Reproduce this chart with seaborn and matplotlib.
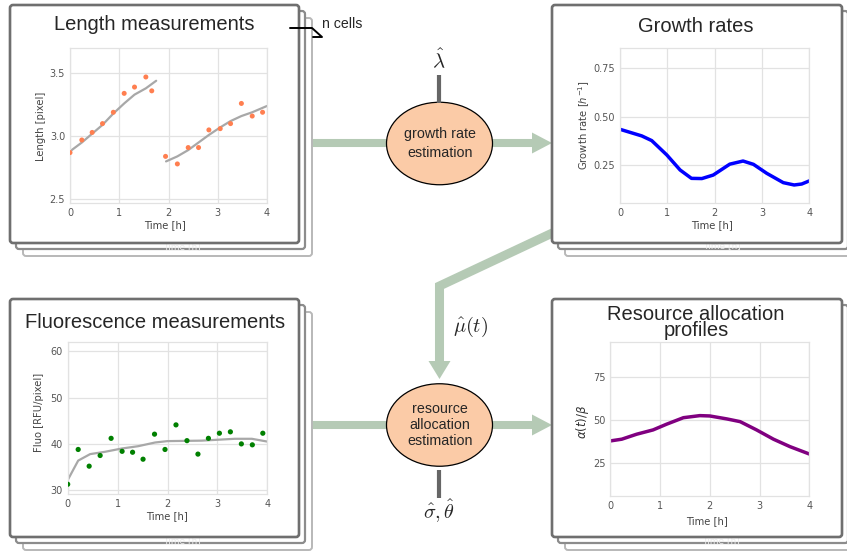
import matplotlib
matplotlib.use("Agg")
import matplotlib.pyplot as plt
import seaborn as sns
from matplotlib.patches import FancyBboxPatch, Ellipse, Polygon

# ---------------- data ----------------
length_time = [0.0, 0.24, 0.45, 0.66, 0.88, 1.10, 1.31, 1.54, 1.66, 1.94,
               2.18, 2.40, 2.61, 2.82, 3.05, 3.26, 3.48, 3.70, 3.91]
length_px = [2.87, 2.97, 3.03, 3.10, 3.19, 3.34, 3.39, 3.47, 3.36, 2.84,
             2.78, 2.91, 2.91, 3.05, 3.06, 3.10, 3.26, 3.16, 3.19]

fit1_time = [0.0, 0.24, 0.45, 0.66, 0.88, 1.10, 1.31, 1.54, 1.75]
fit1_len = [2.88, 2.95, 3.02, 3.09, 3.18, 3.26, 3.33, 3.38, 3.44]
fit2_time = [1.95, 2.18, 2.40, 2.61, 2.82, 3.05, 3.26, 3.48, 3.70, 4.0]
fit2_len = [2.80, 2.84, 2.89, 2.95, 3.01, 3.07, 3.12, 3.16, 3.19, 3.24]

growth_time = [0.0, 0.46, 0.67, 0.99, 1.27, 1.51, 1.73, 1.97, 2.32, 2.60,
               2.82, 3.10, 3.45, 3.68, 3.84, 4.0]
growth_rate = [0.435, 0.401, 0.377, 0.303, 0.226, 0.183, 0.182, 0.200, 0.256,
               0.272, 0.255, 0.209, 0.161, 0.149, 0.154, 0.170]

fluo_time = [0.0, 0.21, 0.43, 0.65, 0.87, 1.09, 1.30, 1.51, 1.74, 1.95,
             2.17, 2.39, 2.61, 2.82, 3.04, 3.26, 3.48, 3.70, 3.91]
fluo_value = [31.3, 38.8, 35.2, 37.5, 41.2, 38.4, 38.2, 36.7, 42.1, 38.8,
              44.1, 40.7, 37.8, 41.2, 42.3, 42.6, 40.0, 39.8, 42.3]
fluo_fit_time = [0.0, 0.21, 0.45, 0.75, 1.08, 1.41, 1.75, 2.0, 2.68, 3.35, 3.69, 4.0]
fluo_fit_value = [32.2, 36.4, 37.8, 38.3, 39.0, 39.5, 40.3, 40.6, 40.7, 41.1, 41.1, 40.5]

alloc_time = [0.0, 0.23, 0.53, 0.86, 1.13, 1.47, 1.80, 2.0, 2.34, 2.61,
              2.94, 3.28, 3.61, 4.0]
alloc_value = [38.0, 39.0, 41.9, 44.4, 47.7, 51.5, 52.7, 52.5, 50.8, 49.2,
               44.4, 39.0, 34.7, 30.4]

time_ticks = [0, 1, 2, 3, 4]

# ---------------- style ----------------
sns.set_theme(style="whitegrid", rc={
    "grid.color": "#e2e2e2",
    "axes.edgecolor": "#e2e2e2",
    "xtick.color": "#555555",
    "ytick.color": "#555555",
    "axes.labelcolor": "#444444",
})
plt.rcParams["font.family"] = ["DejaVu Sans"]

W, H = 847, 551
fig = plt.figure(figsize=(W / 100, H / 100), dpi=100)

bg = fig.add_axes([0, 0, 1, 1])
bg.set_xlim(0, W)
bg.set_ylim(H, 0)
bg.axis("off")

TITLE_FONT = ["Liberation Sans", "DejaVu Sans"]
GREEN = "#b5cab5"
PEACH = "#fbcba7"


def px_axes(x0, y0, x1, y1):
    return fig.add_axes([x0 / W, 1 - y1 / H, (x1 - x0) / W, (y1 - y0) / H])


def card_stack(x0, y0, x1, y1):
    layers = [(13, "#b8b8b8", 1.4), (6, "#8c8c8c", 1.6), (0, "#6f6f6f", 1.9)]
    for off, col, lw in layers:
        z = 3 if off else 5
        bg.add_patch(FancyBboxPatch((x0 + off, y0 + off), x1 - x0, y1 - y0,
                                    boxstyle="round,pad=0,rounding_size=3",
                                    facecolor="white", edgecolor=col,
                                    linewidth=lw, zorder=z))


# ---------------- arrows (behind the cards) ----------------
arrow_lw = 5.8
bg.plot([300, 390], [143, 143], color=GREEN, lw=arrow_lw, solid_capstyle="butt", zorder=1)
bg.plot([488, 534], [143, 143], color=GREEN, lw=arrow_lw, solid_capstyle="butt", zorder=1)
bg.add_patch(Polygon([(532, 132.5), (552, 143), (532, 153.5)], closed=True,
                     facecolor=GREEN, edgecolor="none", zorder=1))

bg.plot([300, 390], [425, 425], color=GREEN, lw=arrow_lw, solid_capstyle="butt", zorder=1)
bg.plot([488, 534], [425, 425], color=GREEN, lw=arrow_lw, solid_capstyle="butt", zorder=1)
bg.add_patch(Polygon([(532, 414.5), (552, 425), (532, 435.5)], closed=True,
                     facecolor=GREEN, edgecolor="none", zorder=1))

bg.plot([580, 439.5, 439.5], [220, 286, 362], color=GREEN, lw=6.5,
        solid_joinstyle="miter", solid_capstyle="butt", zorder=1)
bg.add_patch(Polygon([(428.5, 361), (439.5, 379), (450.5, 361)], closed=True,
                     facecolor=GREEN, edgecolor="none", zorder=1))

# ---------------- cards ----------------
card_stack(10, 5, 299, 243)
card_stack(552, 5, 842, 243)
card_stack(10, 299, 299, 537)
card_stack(552, 299, 842, 537)

# faint labels of the cards stacked underneath
for gx, gy in [(182, 247), (722, 246), (182, 541), (721, 541)]:
    bg.text(gx, gy, "Time [h]", fontsize=6.5, color="#ececec",
            ha="center", va="center", zorder=4)

# card titles
bg.text(154, 25, "Length measurements", fontsize=14.5, family=TITLE_FONT,
        ha="center", va="center", zorder=6)
bg.text(696, 27, "Growth rates", fontsize=14.5, family=TITLE_FONT,
        ha="center", va="center", zorder=6)
bg.text(155, 323, "Fluorescence measurements", fontsize=14.5, family=TITLE_FONT,
        ha="center", va="center", zorder=6)
bg.text(696, 322.5, "Resource allocation\nprofiles", fontsize=14.5,
        family=TITLE_FONT, ha="center", va="center", linespacing=0.85,
        multialignment="center", zorder=6)

# "n cells" bracket
bg.plot([290, 312, 322, 313], [28, 28, 37, 37], color="black", lw=1.4, zorder=7)
bg.text(322, 24, "n cells", fontsize=10.2, family=TITLE_FONT,
        ha="left", va="center", zorder=7)

# ---------------- estimation nodes ----------------
for cy, label, ls in [(143.5, "growth rate\nestimation", 1.43),
                      (425, "resource\nallocation\nestimation", 1.2)]:
    bg.add_patch(Ellipse((439.5, cy), 106, 82.5, facecolor=PEACH,
                         edgecolor="black", linewidth=0.9, zorder=8))
    bg.text(440, cy, label, fontsize=10.3, family=TITLE_FONT, ha="center",
            va="center", linespacing=ls, zorder=9)

bg.plot([439, 439], [75, 103], color="#666666", lw=3, solid_capstyle="butt", zorder=8)
bg.plot([439, 439], [470, 498], color="#666666", lw=3, solid_capstyle="butt", zorder=8)
bg.text(439, 60, r"$\hat{\lambda}$", fontsize=15, math_fontfamily="cm",
        ha="center", va="center", zorder=9)
bg.text(471, 327, r"$\hat{\mu}(t)$", fontsize=14.5, math_fontfamily="cm",
        ha="center", va="center", zorder=9)
bg.text(439, 511, r"$\hat{\sigma},\hat{\theta}$", fontsize=14.5, math_fontfamily="cm",
        ha="center", va="center", zorder=9)


# ---------------- inner plots ----------------
def style_axes(ax, ylim, yticks, yfmt, xlabel_xy, ylabel_xy):
    ax.set_xlim(0, 4)
    ax.set_ylim(*ylim)
    ax.set_xticks(time_ticks)
    ax.set_yticks(yticks)
    ax.set_yticklabels([yfmt.format(v) for v in yticks])
    ax.tick_params(labelsize=7, pad=3.5, length=0)
    ax.grid(True, linewidth=0.9)
    for s in ax.spines.values():
        s.set_linewidth(0.9)
    ax.xaxis.set_label_coords(*xlabel_xy)
    ax.xaxis.label.set_verticalalignment("center")
    ax.yaxis.set_label_coords(*ylabel_xy)
    ax.yaxis.label.set_verticalalignment("center")


# length
ax1 = px_axes(70, 48, 267, 203)
sns.lineplot(x=fit1_time, y=fit1_len, ax=ax1, color="#a8a8a8", linewidth=1.6)
sns.lineplot(x=fit2_time, y=fit2_len, ax=ax1, color="#a8a8a8", linewidth=1.6)
sns.scatterplot(x=length_time, y=length_px, ax=ax1, color="coral", s=13,
                edgecolor="none", zorder=3)
ax1.set_xlabel("Time [h]", fontsize=7.2)
ax1.set_ylabel("Length [pixel]", fontsize=7.2)
style_axes(ax1, (2.47, 3.70), [2.5, 3.0, 3.5], "{:.1f}", (0.48, -0.142), (-0.147, 0.497))

# growth rate
ax2 = px_axes(620, 48.3, 809.3, 202.7)
sns.lineplot(x=growth_time, y=growth_rate, ax=ax2, color="blue", linewidth=2.5)
ax2.set_xlabel("Time [h]", fontsize=7.2)
ax2.set_ylabel(r"Growth rate [$h^{-1}$]", fontsize=7.2)
style_axes(ax2, (0.058, 0.851), [0.25, 0.50, 0.75], "{:.2f}", (0.486, -0.144), (-0.19, 0.5))

# fluorescence
ax3 = px_axes(67.7, 342.3, 267.3, 494)
sns.lineplot(x=fluo_fit_time, y=fluo_fit_value, ax=ax3, color="#a8a8a8", linewidth=1.6)
sns.scatterplot(x=fluo_time, y=fluo_value, ax=ax3, color="green", s=14,
                edgecolor="none", zorder=3)
ax3.set_xlabel("Time [h]", fontsize=7.2)
ax3.set_ylabel("Fluo [RFU/pixel]", fontsize=7.2)
style_axes(ax3, (29.2, 61.9), [30, 40, 50, 60], "{:d}", (0.497, -0.145), (-0.144, 0.54))

# resource allocation
ax4 = px_axes(610.3, 342.3, 809.3, 496)
sns.lineplot(x=alloc_time, y=alloc_value, ax=ax4, color="purple", linewidth=2.5)
ax4.set_xlabel("Time [h]", fontsize=7.2)
ax4.set_ylabel(r"$\alpha(t)/\beta$", fontsize=8.5, color="#333333")
style_axes(ax4, (6, 95.3), [25, 50, 75], "{:d}", (0.485, -0.161), (-0.142, 0.481))

fig.savefig("out.png", dpi=100)
